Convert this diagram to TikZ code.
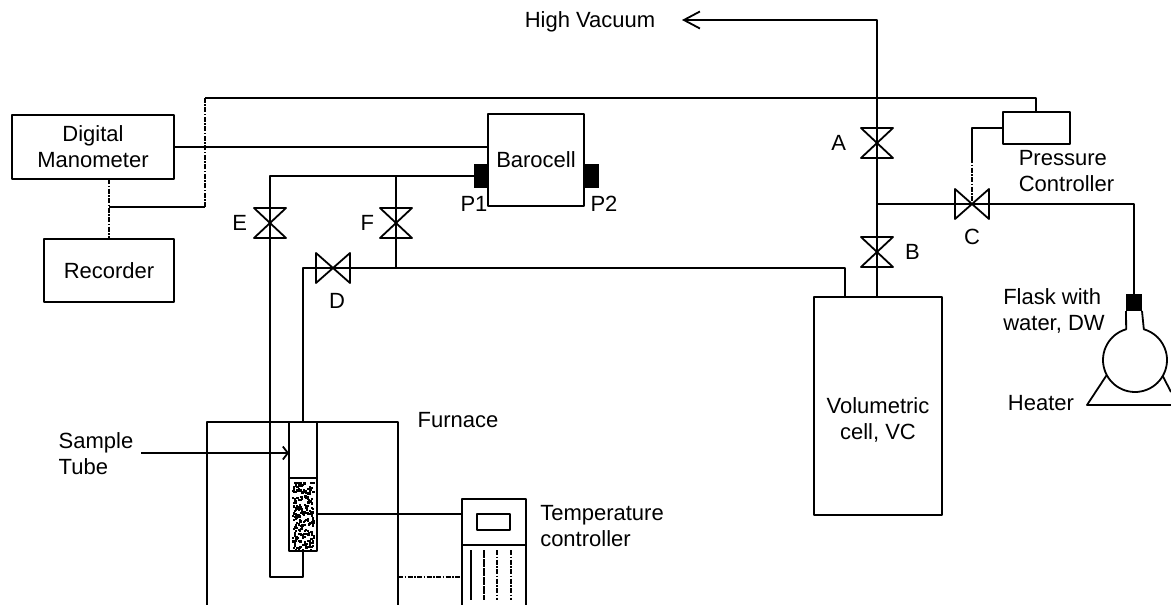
\documentclass[tikz,border=0pt]{standalone}
\usepackage{fontspec}
\setmainfont{Liberation Sans}
\usetikzlibrary{positioning,arrows.meta}

\tikzset{
  every node/.style={font=\fontsize{22}{26}\selectfont,inner sep=0pt,outer sep=0pt},
  box/.style={draw,align=center},
  lbl/.style={align=center},
  lblleft/.style={align=left},
  signal/.style={dash pattern=on 5pt off 1.5pt on 1.5pt off 1.5pt},
  plug/.style={fill=black,draw=none},
}

\begin{document}
\begin{tikzpicture}[x=1pt,y=-1pt,line width=1.8pt,line join=round]
    \useasboundingbox (0,0) rectangle (1171,605);
    % instruments
    \node[box,minimum width=162pt,minimum height=64pt] (manometer) at (93,147) {Digital\\Manometer};
    \node[box,minimum width=130pt,minimum height=63pt] (recorder) at (109,270.5) {Recorder};
    \node[box,minimum width=96pt,minimum height=92pt] (barocell) at (536,160) {Barocell};
    \node[box,minimum width=67pt,minimum height=32pt] (regulator) at (1036.5,128) {};
    \node[box,minimum width=128pt,minimum height=218pt] (cell) at (878,406) {};
    \node[box,minimum width=28pt,minimum height=129pt] (tube) at (303,486.5) {};
    \node[box,minimum width=64pt,minimum height=46pt] (thermo) at (494,522) {};
    \node[box,minimum width=33pt,minimum height=16pt] (display) at (493.5,522) {};
    \node[plug,minimum width=14pt,minimum height=24pt] (plugA) at (481,176) {};
    \node[plug,minimum width=15pt,minimum height=24pt] (plugB) at (591.5,176) {};
    \node[plug,minimum width=16pt,minimum height=17pt] (stopper) at (1134,302.5) {};
    \node[circle,minimum size=64pt] (flask) at (1135,360) {};
    % valves
    \coordinate (valveA) at (877,143);
    \coordinate (valveB) at (877,252);
    \coordinate (valveC) at (972,204);
    \coordinate (valveD) at (333,268);
    \coordinate (valveE) at (270,223);
    \coordinate (valveF) at (396,223);
    \foreach \v in {valveA,valveB,valveE,valveF}
      \draw ([shift={(-16,-15)}]\v) -- ([shift={(16,15)}]\v) -- ([shift={(-16,15)}]\v) -- ([shift={(16,-15)}]\v) -- cycle;
    \foreach \v in {valveC,valveD}
      \draw ([shift={(-17,-15)}]\v) -- ([shift={(17,15)}]\v) -- ([shift={(17,-15)}]\v) -- ([shift={(-17,15)}]\v) -- cycle;
    % labels
    \node[lbl,left=31pt of valveA] (labelA) {A};
    \node[lbl,right=28pt of valveB] (labelB) {B};
    \node[lbl,below=25pt of valveC] (labelC) {C};
    \node[lbl,below=25pt of valveD,xshift=4pt] (labelD) {D};
    \node[lbl,left=23pt of valveE] (labelE) {E};
    \node[lbl,left=22pt of valveF] (labelF) {F};
    \node[lbl] (labelP) at (474,204) {P1};
    \node[lbl] (labelQ) at (604,204) {P2};
    \node[lbl] (vacuum) at (590,22) {High Vacuum};
    \node[lblleft,below=6pt of regulator,xshift=30pt] (labelReg) {Pressure\\Controller};
    \node[lbl] (labelCell) at (878,420) {Volumetric\\cell, VC};
    \node[lblleft] (labelFlask) at (1054,311) {Flask with\\water, DW};
    \node[lbl] (labelHeater) at (1041,403) {Heater};
    \node[lbl] (labelFurnace) at (458,420) {Furnace};
    \node[lblleft] (labelThermo) at (602,526) {Temperature\\controller};
    \node[lblleft] (labelTube) at (96,454) {Sample\\Tube};
    % free ends
    \coordinate (vacEnd) at (682,20);
    \coordinate (tubeStart) at (141,453);
    \coordinate (crossing) at (877,204);
    \coordinate (elbow) at (1134,204);
    \coordinate (branchF) at (396,177);
    \coordinate (loopE) at (270,577);
    \coordinate (cellDrop) at (845,267);
    \coordinate (furnaceA) at (207,605);
    \coordinate (furnaceB) at (398,605);
    \coordinate (recTap) at (109,207);
    \coordinate (busTap) at (205,98);
    \coordinate (regTap) at (1036,98);
    \coordinate (wallTap) at (398,577);
    \coordinate (heaterA) at (1087,405);
    \coordinate (heaterB) at (1171,405);
    \coordinate (heaterC) at (1171,392);
    % signal lines
    \draw (manometer.east) -- (manometer.east -| barocell.west);
    \draw[signal] (manometer.south -| recTap) -- (recorder.north -| recTap);
    \draw (recTap) -- (recTap -| busTap);
    \draw[signal] (recTap -| busTap) -- (busTap);
    \draw (busTap) -- (regTap) -- (regulator.north -| regTap);
    \draw (regulator.west) -| ([yshift=-14pt]valveC |- regulator.south);
    \draw[signal] ([yshift=-14pt]valveC |- regulator.south) -- (valveC);
    % pipes
    \draw[{Straight Barb[length=16pt,width=17pt]}-] (vacEnd) -| (valveA);
    \draw (valveA) -- (valveB) -- (cell.north -| valveB);
    \draw (crossing) -- (valveC) -- (elbow) -- (stopper.north);
    \draw (plugA.west) -| (valveE);
    \draw (valveE) -- (loopE) -| (tube.south);
    \draw (branchF) -- (valveF) -- (valveF |- valveD);
    \draw (cell.north -| cellDrop) |- (valveD);
    \draw (valveD) -| (tube.north);
    % furnace and sample tube
    \draw (furnaceA) |- (tube.north -| furnaceB) -- (furnaceB);
    \draw[{Straight Barb[length=5pt,width=13pt]}-] (tube.west |- tubeStart) -- (tubeStart);
    \draw (tube.west |- 0,478) -- (tube.east |- 0,478);
    \pgfmathsetseed{7}
    \foreach \i in {1,...,240}
      \fill (292+21*rnd,481+68*rnd) rectangle ++(2.2,2.2);
    % temperature controller
    \draw (tube.east |- 0,514) -- (thermo.west |- 0,514);
    \draw (thermo.south west) -- (thermo.west |- 0,605);
    \draw (thermo.south east) -- (thermo.east |- 0,605);
    \draw[signal] (wallTap) -- (thermo.west |- wallTap);
    \draw[line width=1.1pt] (471,550) -- (471,600);
    \draw[line width=1.1pt,dash pattern=on 8pt off 1pt] (484,550) -- (484,600);
    \draw[line width=1.1pt,signal] (497,550) -- (497,600);
    \draw[line width=1.1pt,signal] (511,550) -- (511,600);
    % flask and heater
    \draw (stopper.south west) -- (flask.106) arc[start angle=106,end angle=434,radius=32pt] -- (stopper.south east);
    \draw (flask.208) -- (heaterA) -- (heaterB);
    \draw (flask.330) -- (heaterC);
\end{tikzpicture}
\end{document}
